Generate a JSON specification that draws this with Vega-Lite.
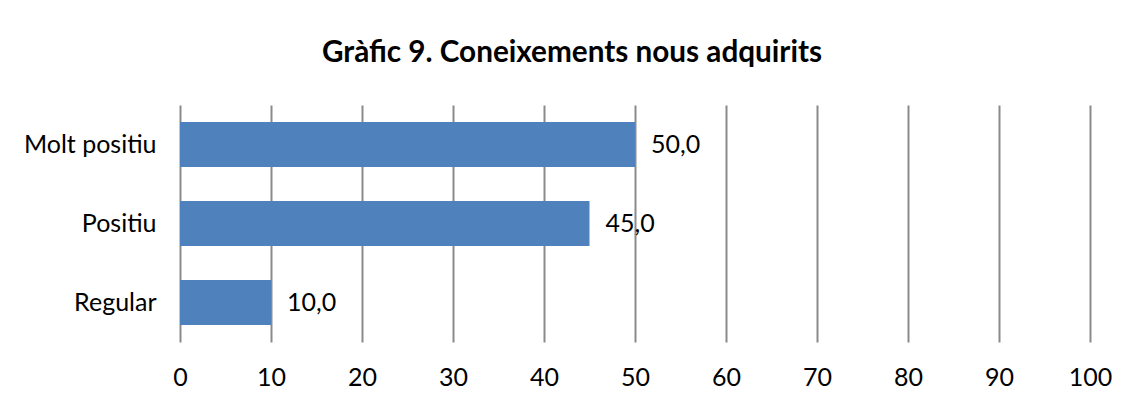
{
  "$schema": "https://vega.github.io/schema/vega-lite/v6.json",
  "width": 910,
  "height": 237,
  "autosize": {"type": "none"},
  "padding": {"left": 180, "top": 105, "right": 39, "bottom": 59},
  "background": "white",
  "config": {
    "font": "Lato",
    "view": {"stroke": null},
    "locale": {"number": {"decimal": ",", "thousands": ".", "grouping": [3], "currency": ["", " €"]}}
  },
  "title": {
    "text": "Gràfic 9. Coneixements nous adquirits",
    "font": "Lato",
    "fontSize": 29.7,
    "fontWeight": "bold",
    "color": "#000000",
    "anchor": "middle",
    "frame": "group",
    "dx": -63,
    "offset": 36
  },
  "data": {
    "values": [
      {"categoria": "Molt positiu", "valor": 50.0},
      {"categoria": "Positiu", "valor": 45.0},
      {"categoria": "Regular", "valor": 10.0}
    ]
  },
  "encoding": {
    "y": {
      "field": "categoria",
      "type": "nominal",
      "sort": ["Molt positiu", "Positiu", "Regular"],
      "scale": {"paddingInner": 0.43, "paddingOuter": 0.215},
      "axis": {
        "title": null,
        "domain": false,
        "ticks": false,
        "labelFont": "Lato",
        "labelFontSize": 25,
        "labelColor": "#000000",
        "labelPadding": 24
      }
    },
    "x": {
      "field": "valor",
      "type": "quantitative",
      "scale": {"domain": [0, 100], "nice": false},
      "axis": {
        "title": null,
        "values": [0, 10, 20, 30, 40, 50, 60, 70, 80, 90, 100],
        "format": "d",
        "domain": false,
        "ticks": false,
        "grid": true,
        "gridColor": "#8a8a8a",
        "gridWidth": 2,
        "gridOpacity": 1,
        "labelFont": "Lato",
        "labelFontSize": 25,
        "labelColor": "#000000",
        "labelPadding": 23,
        "labelFlush": false
      }
    }
  },
  "layer": [
    {"mark": {"type": "bar", "color": "#4F81BD"}},
    {
      "mark": {"type": "text", "align": "left", "baseline": "middle", "dx": 16, "fontSize": 25, "font": "Lato", "color": "#000000"},
      "encoding": {"text": {"field": "valor", "type": "quantitative", "format": ".1f"}}
    }
  ]
}
